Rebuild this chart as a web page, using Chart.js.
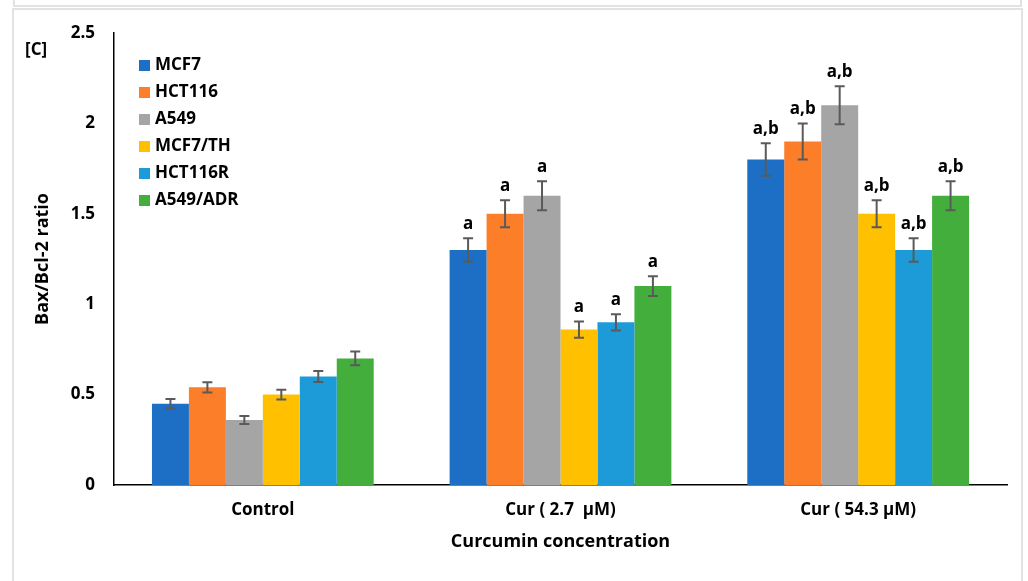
<!DOCTYPE html>
<html>
<head>
<meta charset="utf-8">
<script src="https://cdn.jsdelivr.net/npm/chart.js@4"></script>
<style>
  body { margin: 0; background: #fff; }
  #wrap { position: relative; width: 1028px; height: 581px; overflow: hidden; }
  .frame { position: absolute; border: 2px solid #e2e2e2; box-sizing: border-box; }
  #topBox { left: 13px; top: -10px; width: 1009px; height: 17px; }
  #mainBox { left: 12px; top: 8px; width: 1011px; height: 600px; }
  #chartBox { position: absolute; left: 0; top: 0; width: 1028px; height: 581px; }
</style>
</head>
<body>
<div id="wrap">
  <div class="frame" id="topBox"></div>
  <div class="frame" id="mainBox"></div>
  <div id="chartBox"><canvas id="baxChart"></canvas></div>
</div>
<script>
// categories and series
const categories = ["Control", "Cur ( 2.7  \u00b5M)", "Cur ( 54.3 \u00b5M)"];
const seriesNames = ["MCF7", "HCT116", "A549", "MCF7/TH", "HCT116R", "A549/ADR"];
const seriesColors = ["#1c6fc5", "#fd7e29", "#a5a5a5", "#ffc000", "#1d9bd8", "#43ae3c"];

// Bax/Bcl-2 ratio values
const mcf7 = [0.45, 1.3, 1.8];
const hct116 = [0.54, 1.5, 1.9];
const a549 = [0.36, 1.6, 2.1];
const mcf7th = [0.5, 0.86, 1.5];
const hct116r = [0.6, 0.9, 1.3];
const a549adr = [0.7, 1.1, 1.6];

// error bar half widths
const mcf7Err = [0.025, 0.065, 0.09];
const hct116Err = [0.028, 0.075, 0.1];
const a549Err = [0.022, 0.08, 0.105];
const mcf7thErr = [0.027, 0.045, 0.075];
const hct116rErr = [0.03, 0.045, 0.065];
const a549adrErr = [0.038, 0.055, 0.08];

// significance letters per category
const sigLabels = ["", "a", "a,b"];

const yTicks = [0, 0.5, 1, 1.5, 2, 2.5];

const allValues = [mcf7, hct116, a549, mcf7th, hct116r, a549adr];
const allErrors = [mcf7Err, hct116Err, a549Err, mcf7thErr, hct116rErr, a549adrErr];

Chart.defaults.font.family = "'Open Sans', 'Noto Sans', sans-serif";
Chart.defaults.font.weight = "bold";
Chart.defaults.color = "#000";

// error bars + letters above them
const errorBarPlugin = {
  id: "errorBars",
  afterDatasetsDraw(chart) {
    const ctx = chart.ctx;
    const y = chart.scales.y;
    ctx.save();
    chart.data.datasets.forEach((ds, i) => {
      const meta = chart.getDatasetMeta(i);
      meta.data.forEach((bar, j) => {
        const v = ds.data[j];
        const e = allErrors[i][j];
        const top = y.getPixelForValue(v + e);
        const bot = y.getPixelForValue(v - e);
        ctx.strokeStyle = "#5a5a5a";
        ctx.lineWidth = 2;
        ctx.beginPath();
        ctx.moveTo(bar.x, top);
        ctx.lineTo(bar.x, bot);
        ctx.moveTo(bar.x - 5, top);
        ctx.lineTo(bar.x + 5, top);
        ctx.moveTo(bar.x - 5, bot);
        ctx.lineTo(bar.x + 5, bot);
        ctx.stroke();
        const lab = sigLabels[j];
        if (lab) {
          ctx.fillStyle = "#000";
          ctx.font = "bold 17px 'Open Sans', sans-serif";
          ctx.textAlign = "center";
          ctx.textBaseline = "middle";
          ctx.fillText(lab, bar.x, top - 14);
        }
      });
    });
    ctx.restore();
  }
};

// legend drawn inside the plot, top left
const insideLegend = {
  id: "insideLegend",
  afterDraw(chart) {
    const ctx = chart.ctx;
    ctx.save();
    ctx.font = "bold 17px 'Open Sans', sans-serif";
    ctx.textAlign = "left";
    ctx.textBaseline = "middle";
    chart.data.datasets.forEach((ds, i) => {
      const cy = 65 + i * 27;
      ctx.fillStyle = ds.backgroundColor;
      ctx.fillRect(139, cy - 5, 11, 11);
      ctx.fillStyle = "#000";
      ctx.fillText(ds.label, 155, cy);
    });
    // panel tag
    ctx.fillText("[C]", 25, 50);
    ctx.restore();
  }
};

new Chart(document.getElementById("baxChart"), {
  type: "bar",
  data: {
    labels: categories,
    datasets: seriesNames.map((name, i) => ({
      label: name,
      data: allValues[i],
      backgroundColor: seriesColors[i],
      borderWidth: 0,
      categoryPercentage: 0.745,
      barPercentage: 1.0,
    })),
  },
  options: {
    responsive: true,
    maintainAspectRatio: false,
    animation: false,
    layout: {
      padding: { left: 30, right: 21, top: 33, bottom: 28 },
    },
    plugins: {
      legend: { display: false },
      tooltip: { enabled: false },
    },
    scales: {
      x: {
        grid: { display: false, drawTicks: false },
        border: { display: true, color: "#000", width: 1.5 },
        ticks: { padding: 15, font: { size: 17, weight: "bold" } },
        title: {
          display: true,
          text: "Curcumin concentration",
          font: { size: 18, weight: "bold" },
          padding: { top: 0, bottom: 0 },
        },
        afterFit: (scale) => { scale.height = 68; },
      },
      y: {
        min: 0,
        max: 2.5,
        afterBuildTicks: (scale) => { scale.ticks = yTicks.map((v) => ({ value: v })); },
        grid: { display: false, drawTicks: false },
        border: { display: true, color: "#000", width: 1.5 },
        ticks: {
          padding: 19,
          font: { size: 17, weight: "bold" },
          callback: (v) => String(v),
        },
        title: {
          display: true,
          text: "Bax/Bcl-2 ratio",
          font: { size: 18, weight: "bold" },
          padding: { top: 2, bottom: 0 },
        },
        afterFit: (scale) => { scale.width = 84; },
      },
    },
  },
  plugins: [errorBarPlugin, insideLegend],
});
</script>
</body>
</html>
